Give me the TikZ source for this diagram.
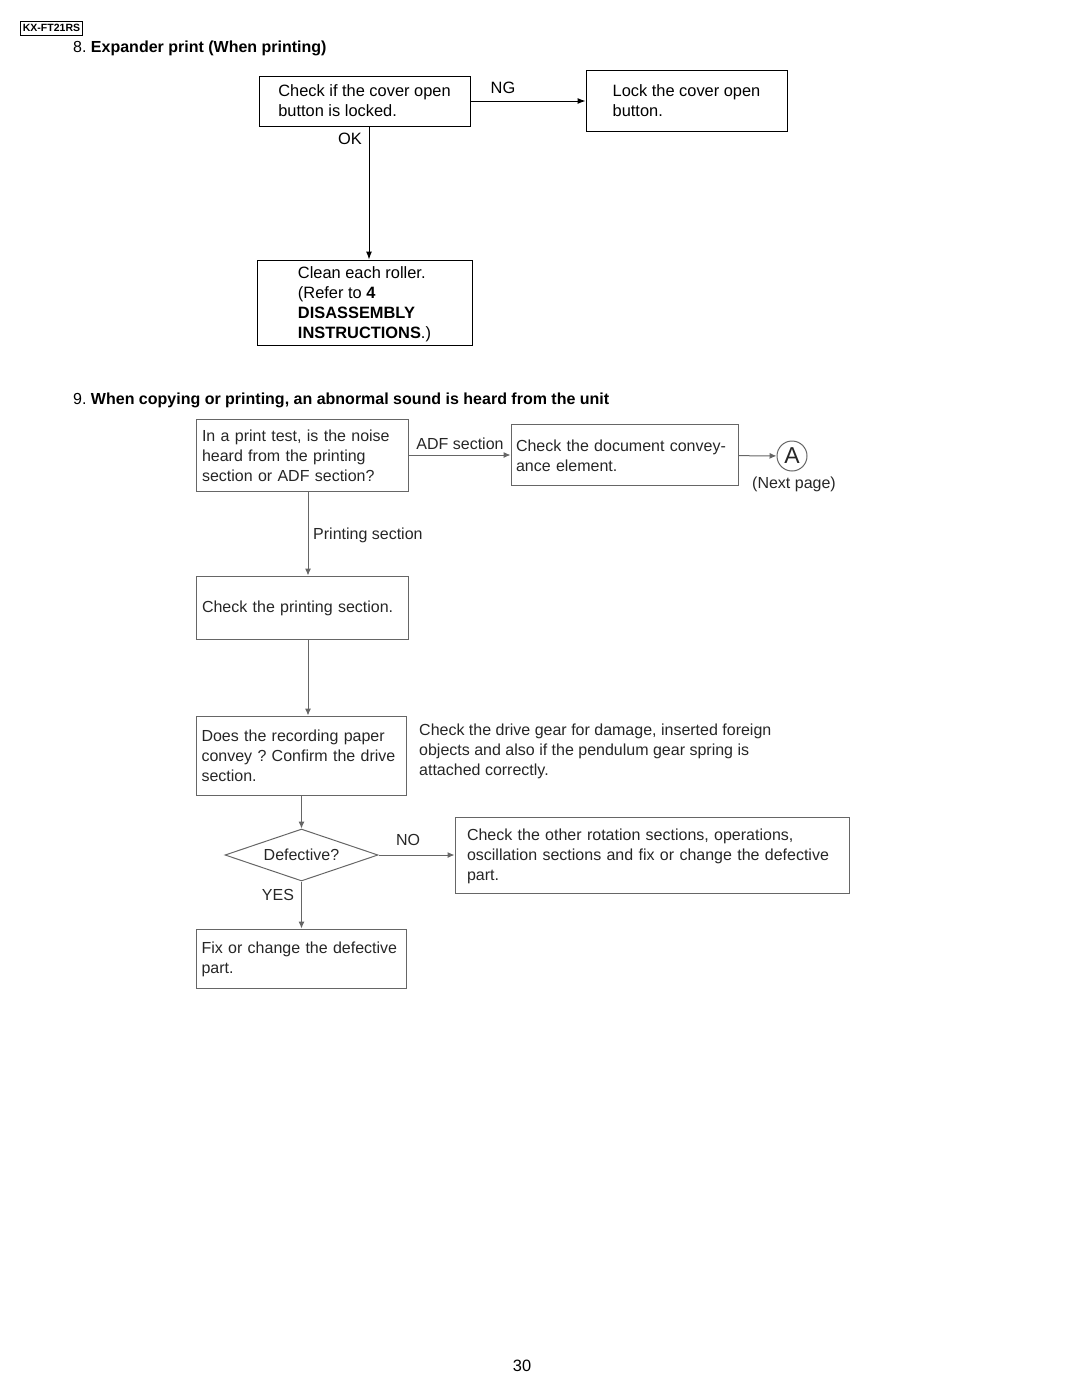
\documentclass[tikz,border=0pt]{standalone}
\usepackage{fontspec}
\setmainfont{Liberation Sans}
\usepackage{tikz}
\usetikzlibrary{arrows.meta, shapes.geometric, positioning}
\usepackage{xcolor}
\newcommand{\boxcolor}{black}
\newcommand{\scancolor}{black!60}
\newcommand{\scantext}{black!85}
\newcommand{\scanfont}{\fontsize{16}{20}\selectfont\frenchspacing\hyphenpenalty10000\relax}

\begin{document}
\begin{tikzpicture}[
      % GLOBAL CFG
      x=1pt, y=-1pt,
      font=\fontsize{16.4}{20}\selectfont\frenchspacing,
      >={Latex[length=8pt,width=6pt]},
      % Styles
      heading/.style={% For the titles
        anchor=west,
        inner sep=0pt,
        font=\fontsize{16}{20}\selectfont
      },
      step8/.style={% For the boxes of part 8
        rectangle,
        draw=\boxcolor,
        line width=1pt,
        align=left,
        inner ysep=0pt
      },
      step9/.style={% For the boxes of part 9
        rectangle,
        draw=\scancolor,
        line width=1pt,
        text=\scantext,
        align=left,
        inner ysep=0pt,
        font=\scanfont
      },
      decision/.style={% For questions
        diamond,
        aspect=2.94,
        draw=\scancolor,
        line width=1pt,
        text=\scantext,
        inner sep=0pt,
        minimum width=153pt,
        minimum height=52pt,
        font=\scanfont
      },
      answer/.style={% For labels on the arrows
        inner sep=0pt
      },
      answer9/.style={
        inner sep=0pt,
        text=\scantext,
        font=\scanfont
      },
      arrowflow/.style={% Arrows of part 8
        line width=1pt,
        ->
      },
      arrowscan/.style={% Arrows of part 9
        line width=1pt,
        draw=\scancolor,
        -{Latex[length=7pt,width=6pt]}
      }
      ]

      \useasboundingbox (0,0) rectangle (1080,1397);

      % Page head
      \node [draw, line width=0.8pt, inner sep=0pt, minimum width=62pt, minimum height=14pt,
        font=\fontsize{10.5}{11}\bfseries\selectfont] (model) at (51.5,28) {KX-FT21RS};
      \node [heading] (title8) at (73,48) {8.~\textbf{Expander print (When printing)}};

      % Part 8:
      \node [step8, minimum width=211pt, minimum height=50pt] (chkcover) at (364.5,101)
        {Check if the cover open\\button is locked.};
      \node [step8, minimum width=201pt, minimum height=60pt] (lockcover) at (686.5,101)
        {Lock the cover open\\button.};
      \node [step8, minimum width=215pt, minimum height=85pt] (cleanroller) at (364.5,302.5)
        {\rule{0pt}{15pt}Clean each roller.\\(Refer to \textbf{4}\\\textbf{DISASSEMBLY}\\\textbf{INSTRUCTIONS}.)};
      \node [answer] (ng) at (503,88) {NG};
      \node [answer] (ok) at (350,139) {OK};
      \draw [arrowflow] (chkcover) -- (lockcover);
      \draw [arrowflow] ([xshift=4.5pt]chkcover.south) -- ([xshift=4.5pt]cleanroller.north);

      % Part 9:
      \node [heading] (title9) at (73,400)
        {9.~\textbf{When copying or printing, an abnormal sound is heard from the unit}};

      \node [step9, text width=200pt, inner xsep=6pt, minimum height=72pt] (noise) at (302,455)
        {\rule{0pt}{14pt}In a print test, is the noise\\heard from the printing\\section or ADF section?};
      \node [step9, text width=217pt, inner xsep=5pt, minimum height=61pt] (docconvey) at (624.5,455)
        {\rule{0pt}{14pt}Check the document convey-\\ance element.};
      \node [circle, draw=\scancolor, line width=1pt, text=\scantext, minimum size=30pt, inner sep=0pt,
        font=\fontsize{23}{23}\selectfont] (nexta) at (792,456) {A};
      \node [answer9] (nextpage) at (794,484) {(Next page)};
      \node [answer9] (adf) at (460,444) {ADF section};
      \draw [arrowscan] (noise) -- (docconvey);
      \draw [arrowscan] (docconvey) -- (nexta);

      \node [step9, text width=200pt, inner xsep=6pt, minimum height=63pt] (printsec) at (302,607.5)
        {\rule{0pt}{14pt}Check the printing section.};
      \node [answer9, anchor=west] (printlbl) at (313,535) {Printing section};
      \draw [arrowscan] ([xshift=6pt]noise.south) -- ([xshift=6pt]printsec.north);

      \node [step9, text width=200pt, inner xsep=5pt, minimum height=79pt] (recpaper) at (301.5,755.5)
        {Does the recording paper\\convey ? Confirm the drive\\section.};
      \node [answer9, anchor=west, align=left] (drivegear) at (419,751)
        {Check the drive gear for damage, inserted foreign\\objects and also if the pendulum gear spring is\\attached correctly.};
      \draw [arrowscan] ([xshift=6pt]printsec.south) -- ([xshift=6.5pt]recpaper.north);

      \node [decision] (defective) at (301.5,855) {Defective?};
      \draw [arrowscan] (recpaper) -- (defective);

      \node [step9, text width=370pt, inner xsep=12pt, minimum height=76pt] (otherrot) at (652,855)
        {\rule{0pt}{14pt}Check the other rotation sections, operations,\\oscillation sections and fix or change the defective\\part.};
      \node [answer9] (no) at (408,840) {NO};
      \draw [arrowscan] (defective) -- (otherrot);

      \node [step9, text width=200pt, inner xsep=5pt, minimum height=59pt] (fixpart) at (301.5,958.5)
        {\rule{0pt}{14pt}Fix or change the defective\\part.};
      \node [answer9] (yes) at (278,895) {YES};
      \draw [arrowscan] (defective) -- (fixpart);

      % Page foot
      \node [answer] (pagenum) at (522,1366) {30};

    \end{tikzpicture}
\end{document}
